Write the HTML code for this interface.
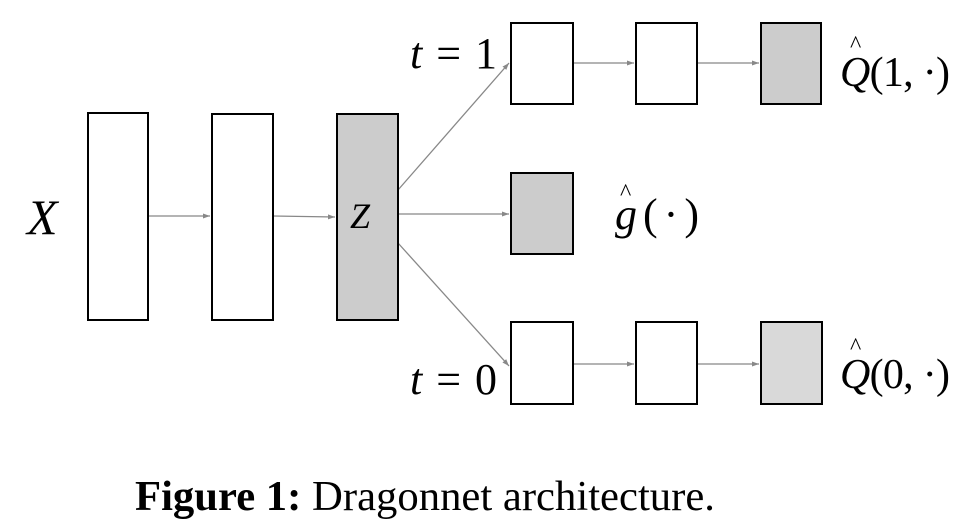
<!DOCTYPE html>
<html><head><style>
body{margin:0;background:#fff;width:976px;height:530px;overflow:hidden}
svg{display:block}
.m{font-family:"Liberation Serif",serif;font-style:italic}
.r{font-family:"Liberation Serif",serif}
</style></head><body>
<svg width="976" height="530" viewBox="0 0 976 530" xmlns="http://www.w3.org/2000/svg">
<defs><marker id="a" markerWidth="8" markerHeight="6" refX="7" refY="3" orient="auto" markerUnits="userSpaceOnUse"><path d="M0,0.5 L7,3 L0,5.5z" fill="#888"/></marker></defs>
<g stroke="#888" stroke-width="1.3" marker-end="url(#a)">
<line x1="148" y1="216" x2="210" y2="216"/>
<line x1="273" y1="216" x2="335" y2="217"/>
<line x1="398" y1="214" x2="509" y2="214"/>
<line x1="398" y1="190" x2="509" y2="63"/>
<line x1="398" y1="243" x2="509" y2="366"/>
<line x1="573" y1="63" x2="634" y2="63"/>
<line x1="697" y1="63" x2="759" y2="63"/>
<line x1="573" y1="364" x2="634" y2="364"/>
<line x1="697" y1="364" x2="759" y2="364"/>
</g>
<g stroke="#000" stroke-width="2">
<rect x="88" y="113" width="60" height="207" fill="#fff"/>
<rect x="212" y="114" width="61" height="206" fill="#fff"/>
<rect x="337" y="114" width="61" height="206" fill="#ccc"/>
<rect x="511" y="23" width="62" height="81" fill="#fff"/>
<rect x="636" y="23" width="61" height="81" fill="#fff"/>
<rect x="761" y="23" width="60" height="81" fill="#ccc"/>
<rect x="511" y="173" width="62" height="81" fill="#ccc"/>
<rect x="511" y="322" width="62" height="82" fill="#fff"/>
<rect x="636" y="322" width="61" height="82" fill="#fff"/>
<rect x="761" y="322" width="61" height="82" fill="#d9d9d9"/>
</g>
<text x="27" y="234" class="m" font-size="50">X</text>
<text x="350" y="228" class="m" font-size="36">Z</text>
<text x="410" y="68" class="r" font-size="44" textLength="87" lengthAdjust="spacing"><tspan class="m">t</tspan> = 1</text>
<text x="410" y="394" class="r" font-size="44" textLength="87" lengthAdjust="spacing"><tspan class="m">t</tspan> = 0</text>
<text x="840" y="86" class="r" font-size="42" textLength="110" lengthAdjust="spacing"><tspan class="m">Q</tspan>(1, ·)</text>
<text x="850" y="52" class="r" font-size="24">^</text>
<text x="840" y="388" class="r" font-size="42" textLength="110" lengthAdjust="spacing"><tspan class="m">Q</tspan>(0, ·)</text>
<text x="850" y="354" class="r" font-size="24">^</text>
<text x="615" y="229" class="r" font-size="44" textLength="84" lengthAdjust="spacing"><tspan class="m">g</tspan>(·)</text>
<text x="620" y="200" class="r" font-size="24">^</text>
<text x="135" y="510" class="r" font-size="42" textLength="580" lengthAdjust="spacingAndGlyphs"><tspan font-weight="bold">Figure 1:</tspan> Dragonnet architecture.</text>
</svg>
</body></html>
